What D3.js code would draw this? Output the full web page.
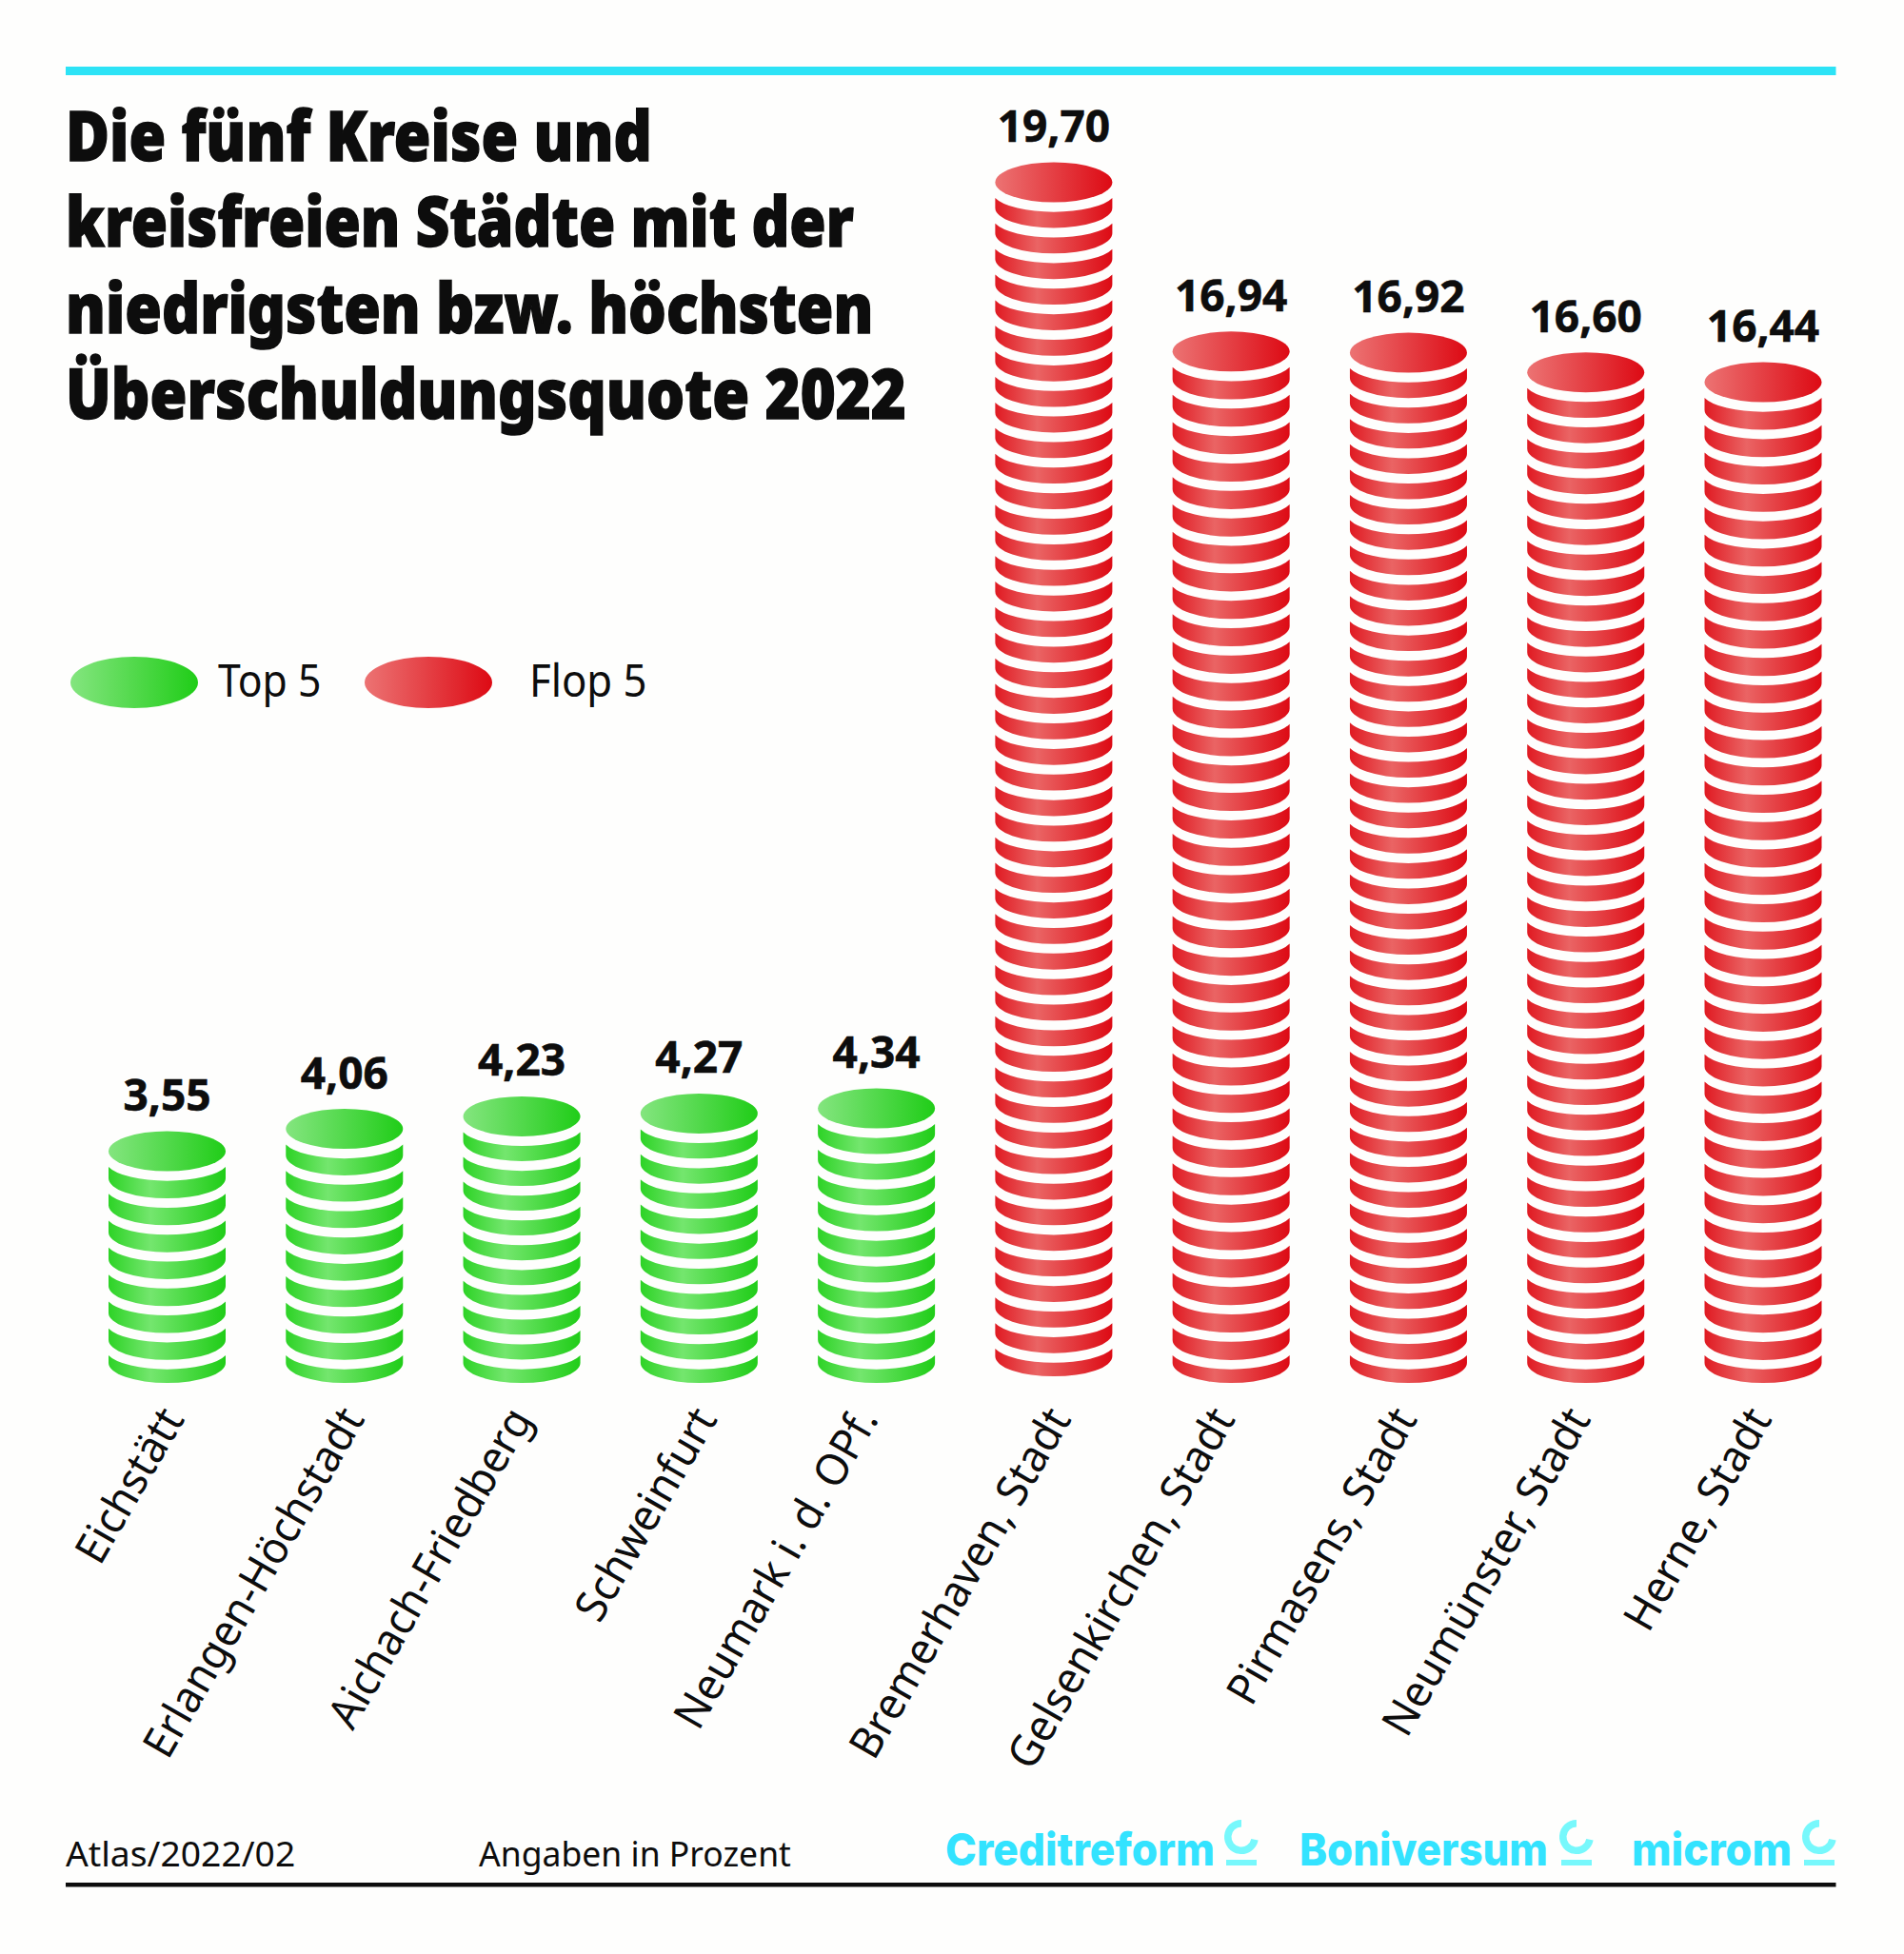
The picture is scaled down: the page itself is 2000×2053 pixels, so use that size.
<!DOCTYPE html>
<html>
<head>
<meta charset="utf-8">
<script src="https://cdn.jsdelivr.net/npm/d3@7"></script>
<style>
html,body{margin:0;padding:0;background:#fefefd;}
text{font-family:"Noto Sans",sans-serif;fill:#0d0d0d;}
</style>
</head>
<body>
<script>
// data
var categories = ["Eichstätt","Erlangen-Höchstadt","Aichach-Friedberg","Schweinfurt","Neumark i. d. OPf.","Bremerhaven, Stadt","Gelsenkirchen, Stadt","Pirmasens, Stadt","Neumünster, Stadt","Herne, Stadt"];
var values = [3.55,4.06,4.23,4.27,4.34,19.70,16.94,16.92,16.60,16.44];
var groups = ["top","top","top","top","top","flop","flop","flop","flop","flop"];
// how many discs each stack shows under its lid
var discCounts = [8,9,10,10,10,46,37,40,39,36];
// value at which a stack stops (Bremerhaven ends a little higher)
var stackFloors = [0,0,0,0,0,0.11,0,0,0,0];
var titleLines = ["Die fünf Kreise und","kreisfreien Städte mit der","niedrigsten bzw. höchsten","Überschuldungsquote 2022"];
var legendLabels = ["Top 5","Flop 5"];
var brands = ["Creditreform","Boniversum","microm"];

var width = 2000, height = 2053;
var svg = d3.select("body").append("svg").attr("width",width).attr("height",height).style("display","block");

var defs = svg.append("defs");
function gradient(id, stops){
	var g = defs.append("linearGradient").attr("id",id);
	stops.forEach(function(s){ g.append("stop").attr("offset",s[0]).attr("stop-color",s[1]); });
}
gradient("lid-top",[[0,"#84e57f"],[1,"#20cd18"]]);
gradient("lid-flop",[[0,"#ec7373"],[1,"#dd0a14"]]);
gradient("side-top",[[0,"#2dd326"],[0.36,"#74e66e"],[1,"#20cd18"]]);
gradient("side-flop",[[0,"#e01a22"],[0.36,"#ea6464"],[1,"#dd0a14"]]);

// the stacks are not quite proportional in the source, so the scale has several segments
var x = d3.scalePoint().domain(categories).range([175.5,1852]);
var y = d3.scaleLinear().domain([0,3.55,4.06,4.34,16.44,19.7]).range([1432,1209.5,1186,1164.5,401.5,191.5]);
var rx = 61.5, ry = 21;
var fmt = d3.formatLocale({decimal:",",thousands:".",grouping:[3],currency:["","€"]}).format(".2f");

// top rule and bottom rule
svg.append("rect").attr("x",69).attr("y",70).attr("width",1859.5).attr("height",9).attr("fill","#2de3f6");
svg.append("rect").attr("x",69).attr("y",1978).attr("width",1859.5).attr("height",4.5).attr("fill","#0d0d0d");

// fits a text to a share of its natural width
function squeeze(sel, f){
	sel.each(function(d,i){
		var w = this.getComputedTextLength();
		var share = typeof f == "function" ? f(d,i) : f;
		d3.select(this).attr("textLength",w*share).attr("lengthAdjust","spacingAndGlyphs");
	});
}

// title
var titleFit = [0.871,0.862,0.869,0.877];
svg.append("g").selectAll("text").data(titleLines).enter().append("text")
	.attr("x",69)
	.attr("y",function(d,i){ return 169 + i*90.3; })
	.attr("font-size",72).attr("font-weight",900)
	.style("stroke","#0d0d0d").style("stroke-width",1.5)
	.text(function(d){ return d; })
	.call(squeeze,function(d,i){ return titleFit[i]; });

// legend
var legendX = [141,450], legendTextX = [229,556];
svg.append("g").selectAll("ellipse").data(legendLabels).enter().append("ellipse")
	.attr("cx",function(d,i){ return legendX[i]; })
	.attr("cy",717).attr("rx",67).attr("ry",27)
	.attr("fill",function(d,i){ return i==0 ? "url(#lid-top)" : "url(#lid-flop)"; });
svg.append("g").selectAll("text").data(legendLabels).enter().append("text")
	.attr("x",function(d,i){ return legendTextX[i]; })
	.attr("y",732).attr("font-size",48)
	.text(function(d){ return d; })
	.call(squeeze,function(d,i){ return i==0 ? 0.89 : 0.91; });

// stacks
var stacks = svg.append("g").selectAll("g").data(values).enter().append("g")
	.attr("transform",function(d,i){ return "translate(" + x(categories[i]) + ",0)"; });

stacks.each(function(v,i){
	var g = d3.select(this);
	var base = y(stackFloors[i]) + ry;
	var first = y(v) + 16.5, last = base - 29;
	var pitch = (last-first)/(discCounts[i]-1);
	var tier = d3.scaleLinear().domain([0,discCounts[i]-1]).range([first,last]);
	g.selectAll("path").data(d3.range(discCounts[i])).enter().append("path")
		.attr("fill","url(#side-" + groups[i] + ")")
		.attr("d",function(k){
			var s = tier(k);
			var span = Math.min(pitch*1.17, base-s);
			return "M" + (-rx) + "," + s
				+ "A64.5," + ry + " 0 0 0 " + rx + "," + s
				+ "L" + rx + "," + (s+span-ry)
				+ "A" + rx + "," + ry + " 0 0 1 " + (-rx) + "," + (s+span-ry) + "Z";
		});
	g.append("ellipse").attr("cx",0).attr("cy",y(v)).attr("rx",rx).attr("ry",ry)
		.attr("fill","url(#lid-" + groups[i] + ")");
	g.append("text").attr("text-anchor","middle")
		.attr("x",0).attr("y",y(v)-ry-21.5)
		.attr("font-size",46).attr("font-weight",700)
		.style("stroke","#0d0d0d").style("stroke-width",0.6)
		.text(fmt(v))
		.call(squeeze,1);
});

// category labels, hand placed in the source so each has its own shift
var labelShift = [0,3,-7,1,-16,0,-14,-9,-13,-9];
svg.append("g").selectAll("text").data(categories).enter().append("text")
	.attr("text-anchor","end")
	.attr("transform",function(d,i){ return "translate(" + (x(d)+19+labelShift[i]) + ",1491) rotate(-60)"; })
	.attr("font-size",46)
	.text(function(d){ return d; })
	.call(squeeze,0.965);

// footer
svg.append("text").attr("x",69).attr("y",1961).attr("font-size",37).text("Atlas/2022/02").call(squeeze,1.007);
svg.append("text").attr("x",503).attr("y",1961).attr("font-size",37).text("Angaben in Prozent").call(squeeze,0.96);

// brands with the C mark
var brandX = [993,1365,1714], brandW = [283,261,168], markX = [1304,1656,1911];
var cArc = d3.arc().innerRadius(10.5).outerRadius(18).startAngle(Math.PI/2+0.2).endAngle(Math.PI*2);
svg.append("g").selectAll("text").data(brands).enter().append("text")
	.attr("x",function(d,i){ return brandX[i]; })
	.attr("y",1960).attr("font-size",47).attr("font-weight",800)
	.style("font-family","Inter")
	.style("fill","#33e3ff")
	.attr("textLength",function(d,i){ return brandW[i]; })
	.attr("lengthAdjust","spacingAndGlyphs")
	.text(function(d){ return d; });
var marks = svg.append("g").selectAll("g").data(brands).enter().append("g")
	.attr("transform",function(d,i){ return "translate(" + markX[i] + ",1930)"; })
	.attr("fill","#77f8fc");
marks.append("path").attr("d",cArc());
marks.append("rect").attr("x",-16).attr("y",24).attr("width",32).attr("height",6);
</script>
</body>
</html>
